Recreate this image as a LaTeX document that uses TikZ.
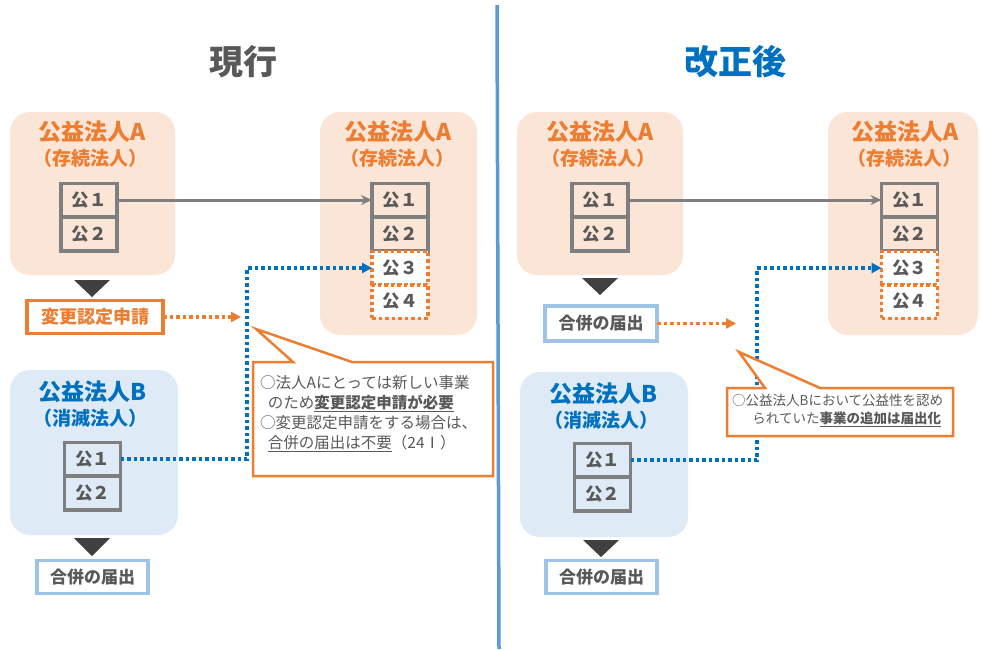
\documentclass[tikz,border=0pt]{standalone}
\usepackage{fontspec}
\setmainfont{Noto Sans CJK JP}
\usepackage{xcolor}
\usepackage{tikz}
\usetikzlibrary{arrows.meta,calc}

\definecolor{orgfill}{HTML}{FBE5D6}
\definecolor{bluefill}{HTML}{DEEBF7}
\definecolor{orgline}{HTML}{ED7D31}
\definecolor{bluetxt}{HTML}{0070C0}
\definecolor{bluefrm}{HTML}{9DC3E6}
\definecolor{divline}{HTML}{5B9BD5}
\definecolor{kogray}{HTML}{7F7F7F}
\definecolor{txtgray}{HTML}{595959}
\definecolor{tridark}{HTML}{404040}

\newcommand{\fsz}[2]{\fontsize{#1}{#2}\selectfont}

\tikzset{
  panelA/.style={fill=orgfill, rounded corners=20pt},
  panelB/.style={fill=bluefill, rounded corners=20pt},
  corpA/.style={text=orgline, font=\bfseries\fsz{23}{23}},
  corpB/.style={text=bluetxt, font=\bfseries\fsz{23}{23}},
  subA/.style={text=orgline, font=\bfseries\fsz{19}{19}},
  subB/.style={text=bluetxt, font=\bfseries\fsz{19}{19}},
  kobox/.style={draw=kogray, line width=3.5pt, minimum width=56pt, minimum height=33.5pt,
    inner sep=0pt, outer sep=0pt, text=txtgray, font=\bfseries\fsz{17.5}{17.5}},
  konew/.style={kobox, draw=orgline, line width=3.5pt, dash pattern=on 3.5pt off 3pt, fill=white},
  shinsei/.style={draw=orgline, line width=3.5pt, fill=white, minimum width=136pt, minimum height=33pt,
    inner sep=0pt, outer sep=0pt, text=orgline, font=\bfseries\fsz{18}{18}},
  todoke/.style={draw=bluefrm, line width=3.5pt, fill=white, minimum width=111pt, minimum height=33pt,
    inner sep=0pt, outer sep=0pt, text=txtgray, font=\bfseries\fsz{17}{17}},
  tri/.style={fill=tridark},
  grayarrow/.style={draw=kogray, line width=3pt, -{Stealth[length=11pt,width=10pt]}},
  orgdots/.style={draw=orgline, line width=3.5pt, dash pattern=on 3.5pt off 3pt, -{Triangle[length=10pt,width=10pt]}},
  bluedots/.style={draw=bluetxt, line width=3.5pt, dash pattern=on 3.5pt off 3pt, -{Triangle[length=10pt,width=10pt]}},
  callout/.style={draw=orgline, line width=2.5pt, fill=white},
  notetext/.style={text=txtgray, align=left, inner sep=0pt}
}

\begin{document}
\begin{tikzpicture}[x=1pt, y=-1pt, >=Stealth]
	\useasboundingbox (0,0) rectangle (981,649);
	% Divider and headings
	\draw[divline, line width=3.5pt] (497,5) -- (499,649);
	\node[text=txtgray, font=\bfseries\fsz{34}{34}] (head1) at (243,62) {現行};
	\node[text=bluetxt, font=\bfseries\fsz{34}{34}] (head2) at (735,62) {改正後};

	%% ---- current rule ----
	% Corporation A (survivor)
	\fill[panelA] (10,112) rectangle (175,275);
	\node[corpA] (tA1) at (92,132) {公益法人A};
	\node[subA] (sA1) at (90,158) {（存続法人）};
	\node[kobox] (kA1) at (89,200) {公１};
	\node[kobox] (kA2) at (89,234) {公２};
	\fill[tri] (74,280) -- (110,280) -- (92,297) -- cycle;
	\node[shinsei] (ask1) at (95,317) {変更認定申請};
	% Corporation A after merger
	\fill[panelA] (320,112) rectangle (477,335);
	\node[corpA] (tA2) at (398,132) {公益法人A};
	\node[subA] (sA2) at (397,158) {（存続法人）};
	\node[kobox] (kB1) at (400,200) {公１};
	\node[kobox] (kB2) at (400,234) {公２};
	\node[konew] (kB3) at (400,268) {公３};
	\node[konew] (kB4) at (400,301.5) {公４};
	% Corporation B (dissolved)
	\fill[panelB] (10,370) rectangle (178,535);
	\node[corpB] (tB1) at (92,392) {公益法人B};
	\node[subB] (sB1) at (90,418) {（消滅法人）};
	\node[kobox] (kC1) at (92.5,459) {公１};
	\node[kobox] (kC2) at (92.5,493) {公２};
	\fill[tri] (74,538) -- (110,538) -- (92,556) -- cycle;
	\node[todoke] (ntc1) at (92.5,577) {合併の届出};
	% Connectors
	\coordinate (oend1) at (241,317);
	\coordinate (j1) at (247,268);
	\draw[grayarrow] (kA1.east) -- (kB1.west);
	\draw[orgdots] (ask1.east) -- (oend1);
	\draw[bluedots] (kC1.east) -| (j1) -- (kB3.west);
	% Callout
	\draw[callout] (293,362) -- (256,329) -- (352,362) -- (493,362) -- (493,476) -- (253,476) -- (253,362) -- cycle;
	\node[notetext, anchor=north west, font=\fsz{15.5}{20}] (note1) at (260,375)
		{○法人Aにとっては新しい事業\\
		\hspace{0.5em}のため\underline{\textbf{変更認定申請が必要}}\\
		○変更認定申請をする場合は、\\
		\hspace{0.5em}\underline{合併の届出は不要}（24Ⅰ）};

	%% ---- revised rule ----
	% Corporation A (survivor)
	\fill[panelA] (517,112) rectangle (683,275);
	\node[corpA] (tA3) at (600,132) {公益法人A};
	\node[subA] (sA3) at (598,158) {（存続法人）};
	\node[kobox] (kD1) at (600,200) {公１};
	\node[kobox] (kD2) at (600,234) {公２};
	\fill[tri] (582,278) -- (618,278) -- (600,295) -- cycle;
	\node[todoke, minimum width=112pt, minimum height=35pt] (ntc2) at (601,323.5) {合併の届出};
	% Corporation A after merger
	\fill[panelA] (828,112) rectangle (978,335);
	\node[corpA] (tA4) at (905,132) {公益法人A};
	\node[subA] (sA4) at (904,158) {（存続法人）};
	\node[kobox] (kE1) at (909.5,200) {公１};
	\node[kobox] (kE2) at (909.5,234) {公２};
	\node[konew] (kE3) at (909.5,268) {公３};
	\node[konew] (kE4) at (909.5,301.5) {公４};
	% Corporation B (dissolved)
	\fill[panelB] (520,372) rectangle (688,537);
	\node[corpB] (tB2) at (603,394) {公益法人B};
	\node[subB] (sB2) at (601,420) {（消滅法人）};
	\node[kobox] (kF1) at (602.5,460) {公１};
	\node[kobox] (kF2) at (602.5,494) {公２};
	\fill[tri] (583,540) -- (619,540) -- (601,557) -- cycle;
	\node[todoke] (ntc3) at (601.5,577) {合併の届出};
	% Connectors
	\coordinate (oend2) at (736,323.5);
	\coordinate (j2) at (757,268);
	\draw[grayarrow] (kD1.east) -- (kE1.west);
	\draw[orgdots] (ntc2.east) -- (oend2);
	\draw[bluedots] (kF1.east) -| (j2) -- (kE3.west);
	% Callout
	\draw[callout] (765,388) -- (739,352) -- (820,388) -- (953,388) -- (953,436) -- (727,436) -- (727,388) -- cycle;
	\node[notetext, anchor=north west, font=\fsz{13.5}{18}] (note2) at (732,394)
		{○公益法人Bにおいて公益性を認め\\
		\hspace{1.5em}られていた\underline{\textbf{事業の追加は届出化}}};
\end{tikzpicture}
\end{document}
